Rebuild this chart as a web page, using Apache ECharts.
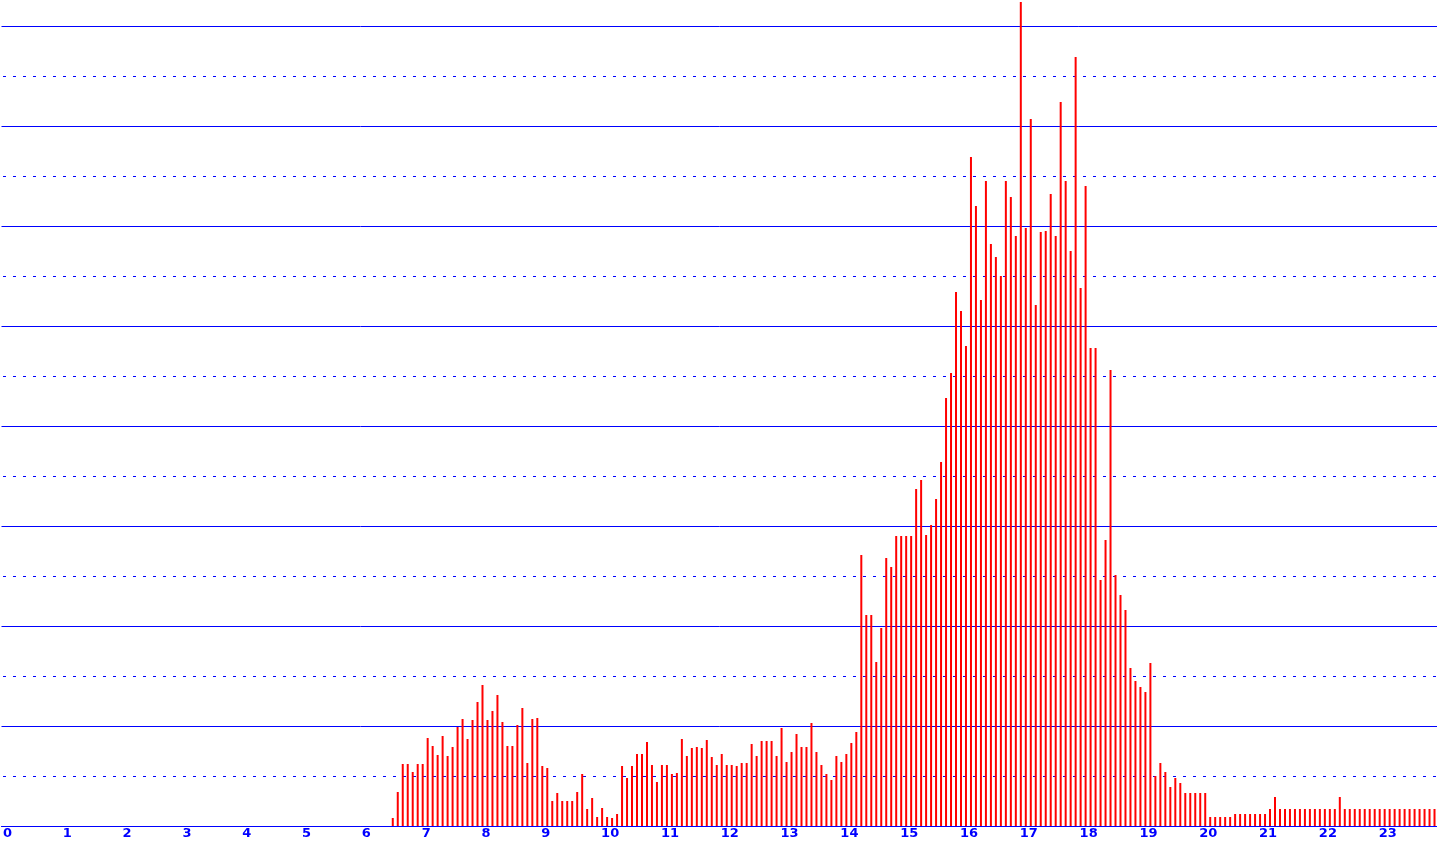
<!DOCTYPE html>
<html>
<head>
<meta charset="utf-8">
<style>
  html, body { margin: 0; padding: 0; background: #ffffff; }
  #chart { width: 1437px; height: 846px; }
</style>
<script src="https://cdn.jsdelivr.net/npm/echarts@6/dist/echarts.min.js"></script>
</head>
<body>
<div id="chart"></div>
<script>
// Hour tick labels
const hourLabels = ['0','1','2','3','4','5','6','7','8','9','10','11','12','13','14','15','16','17','18','19','20','21','22','23'];

// 5-minute counts (12 per hour)
const nightCounts = [            // 00:00 - 05:55
  0,0,0,0,0,0,0,0,0,0,0,0,
  0,0,0,0,0,0,0,0,0,0,0,0,
  0,0,0,0,0,0,0,0,0,0,0,0,
  0,0,0,0,0,0,0,0,0,0,0,0,
  0,0,0,0,0,0,0,0,0,0,0,0,
  0,0,0,0,0,0,0,0,0,0,0,0
];
const morningCounts = [          // 06:00 - 09:55
  0,0,0,0,0,0,8,34,62,62,54,62,
  62,88,80,71,90,70,79,99,107,87,106,124,
  141,106,115,131,104,80,80,101,118,63,107,108,
  60,58,25,33,25,25,25,34,52,17,28,9
];
const middayCounts = [           // 10:00 - 13:55
  18,9,8,12,60,48,60,72,72,84,61,44,
  61,61,52,53,87,70,78,79,78,86,69,61,
  72,61,61,60,63,63,82,70,85,85,85,70,
  98,64,74,92,79,79,103,74,61,52,46,70
];
const afternoonCounts = [        // 14:00 - 17:55
  64,72,83,94,271,211,211,164,198,268,259,290,
  290,290,290,337,346,291,301,327,364,428,453,534,
  515,480,669,620,526,645,582,569,550,645,629,590,
  824,598,707,521,594,595,632,590,724,645,575,769
];
const eveningCounts = [          // 18:00 - 23:55
  538,640,478,478,246,286,456,251,231,216,158,145,
  139,134,163,50,63,54,39,48,43,33,33,33,
  33,33,9,9,9,9,9,12,12,12,12,12,
  12,12,17,29,17,17,17,17,17,17,17,17,
  17,17,17,17,29,17,17,17,17,17,17,17,
  17,17,17,17,17,17,17,17,17,17,17,17
];

const counts = [].concat(nightCounts, morningCounts, middayCounts, afternoonCounts, eveningCounts);
const minuteMarks = ['00','05','10','15','20','25','30','35','40','45','50','55'];
const categories = [];
hourLabels.forEach(h => minuteMarks.forEach(m => categories.push(h + ':' + m)));

const chart = echarts.init(document.getElementById('chart'), null, { renderer: 'canvas' });
chart.setOption({
  animation: false,
  backgroundColor: '#ffffff',
  grid: { left: -1.5, right: -1.5, top: 26, bottom: 20, containLabel: false },
  xAxis: {
    type: 'category',
    data: categories,
    boundaryGap: true,
    axisLine: { show: true, lineStyle: { color: '#0000ff', width: 1 } },
    axisTick: { show: false },
    splitLine: { show: false },
    axisLabel: {
      show: true,
      interval: function (idx) { return idx % 12 === 0; },
      formatter: function (val) { return String(parseInt(val.split(':')[0], 10)); },
      align: 'left',
      verticalAlign: 'top',
      margin: 1,
      padding: [0, 0, 0, -1],
      color: '#0000ff',
      fontFamily: 'DejaVu Sans',
      fontWeight: 'bold',
      fontSize: 13
    }
  },
  yAxis: {
    type: 'value',
    min: 0,
    max: 800,
    interval: 100,
    axisLine: { show: false },
    axisTick: { show: false },
    axisLabel: { show: false },
    splitLine: { show: true, lineStyle: { color: '#0000ff', width: 1, type: 'solid' } },
    minorTick: { show: false, splitNumber: 2 },
    minorSplitLine: { show: true, lineStyle: { color: '#0000ff', width: 1, type: [3, 7], dashOffset: 8.5 } }
  },
  series: [{
    type: 'bar',
    data: counts,
    barWidth: 2,
    clip: false,
    itemStyle: { color: '#ff0000' },
    emphasis: { disabled: true }
  }]
});
</script>
</body>
</html>
